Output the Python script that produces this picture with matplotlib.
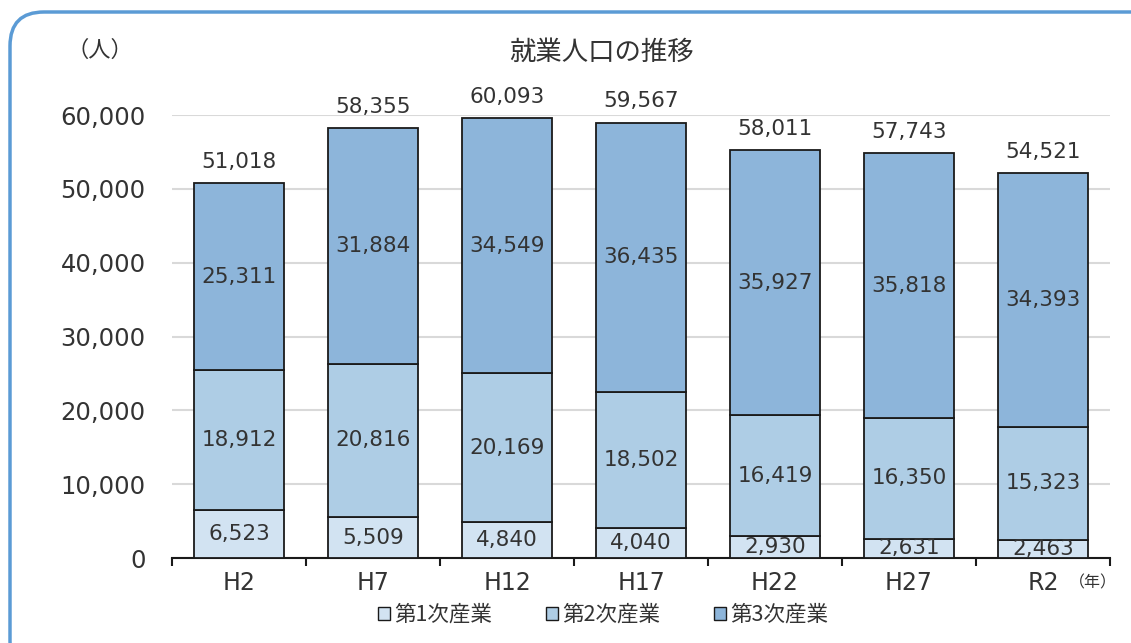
import matplotlib
matplotlib.use("Agg")
import matplotlib.pyplot as plt
from matplotlib.patches import FancyBboxPatch, Patch
import numpy as np

plt.rcParams["font.family"] = ["DejaVu Sans", "Noto Sans CJK JP"]
CJK = ["Noto Sans CJK JP", "DejaVu Sans"]

years = ["H2", "H7", "H12", "H17", "H22", "H27", "R2"]
primary = [6523, 5509, 4840, 4040, 2930, 2631, 2463]
secondary = [18912, 20816, 20169, 18502, 16419, 16350, 15323]
tertiary = [25311, 31884, 34549, 36435, 35927, 35818, 34393]
totals = [51018, 58355, 60093, 59567, 58011, 57743, 54521]

series_names = ["第1次産業", "第2次産業", "第3次産業"]
colors = ["#D2E3F2", "#AECDE5", "#8DB5DA"]
text_color = "#333333"

W, H = 1131, 643
fig = plt.figure(figsize=(W / 100, H / 100), dpi=100)
ax = fig.add_axes([172 / W, 1 - 558 / H, (1110 - 172) / W, (558 - 115) / H])

# outer rounded frame
frame = FancyBboxPatch(
    (10 / W, -0.05), 1.2, 1 - 12 / H + 0.05,
    boxstyle="round,pad=0,rounding_size=0.03",
    transform=fig.transFigure, fill=False, edgecolor="#5B9BD5", linewidth=2.5,
    mutation_aspect=W / H, zorder=0,
)
fig.patches.append(frame)

x = np.arange(len(years))
width = 0.67
bottom = np.zeros(len(years))
for values, color in zip([primary, secondary, tertiary], colors):
    vals = np.array(values, dtype=float)
    ax.bar(x, vals, width, bottom=bottom, color=color, edgecolor="#1a1a1a",
           linewidth=1.3, zorder=3)
    for xi, b, v in zip(x, bottom, vals):
        ax.text(xi, b + v / 2, f"{int(v):,}", ha="center", va="center",
                fontsize=15.5, color=text_color, zorder=4)
    bottom += vals

for xi, top, tot in zip(x, bottom, totals):
    ax.annotate(f"{tot:,}", (xi, top), xytext=(0, 8), textcoords="offset points",
                ha="center", va="bottom", fontsize=15.5, color=text_color)

ax.set_ylim(0, 60000)
ax.set_xlim(-0.5, len(years) - 0.5)
ax.set_yticks(np.arange(0, 60001, 10000))
ax.set_yticklabels([f"{v:,}" for v in range(0, 60001, 10000)])
ax.yaxis.grid(True, color="#D9D9D9", linewidth=1.5, zorder=0)
ax.set_axisbelow(True)
ax.tick_params(axis="y", length=0, labelsize=17.5, labelcolor=text_color, pad=19)

ax.set_xticks(x)
ax.set_xticklabels(years)
ax.tick_params(axis="x", length=0, labelsize=17, labelcolor=text_color, pad=9)
ax.set_xticks(np.arange(-0.5, len(years), 1.0), minor=True)
ax.tick_params(axis="x", which="minor", length=6, width=1.5, color="#1a1a1a", direction="out")

for side in ["top", "right", "left"]:
    ax.spines[side].set_visible(False)
ax.spines["bottom"].set_color("#1a1a1a")
ax.spines["bottom"].set_linewidth(1.5)

fig.text(601 / W, 1 - 52 / H, "就業人口の推移", ha="center", va="center",
         fontsize=19, color=text_color, family=CJK)
fig.text(100 / W, 1 - 50 / H, "（人）", ha="center", va="center",
         fontsize=16, color=text_color, family=CJK)
fig.text(1093 / W, 1 - 583 / H, "（年）", ha="center", va="center",
         fontsize=11.5, color=text_color, family=CJK)

handles = [Patch(facecolor=c, edgecolor="#1a1a1a", linewidth=1.0) for c in colors]
fig.legend(handles, series_names, loc="center", bbox_to_anchor=(603 / W, 1 - 615 / H),
           ncol=3, frameon=False, handlelength=0.55, handleheight=0.55,
           handletextpad=0.2, columnspacing=2.5, labelcolor=text_color,
           prop={"family": CJK, "size": 15.5})

fig.savefig("out.png", dpi=100)
